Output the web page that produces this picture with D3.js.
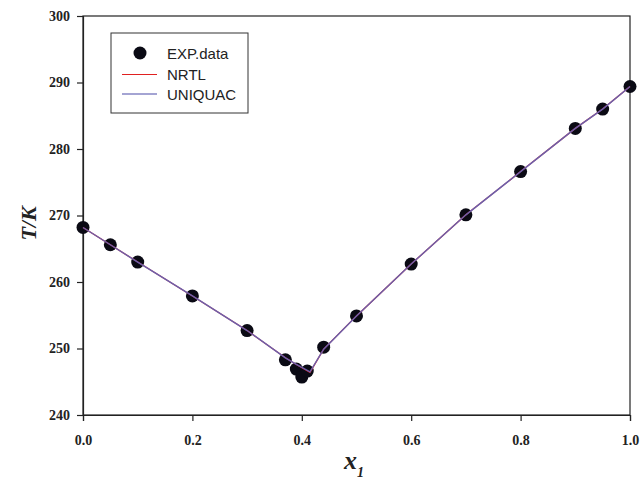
<!DOCTYPE html>
<html>
<head>
<meta charset="utf-8">
<script src="https://cdn.jsdelivr.net/npm/d3@7"></script>
<style>
  html, body { margin: 0; padding: 0; background: #fff; }
  svg { display: block; }
</style>
</head>
<body>
<svg id="chart" width="640" height="481"></svg>
<script>
// Experimental data
const expX = [0.0, 0.05, 0.10, 0.20, 0.30, 0.37, 0.39, 0.40, 0.41, 0.44, 0.50, 0.60, 0.70, 0.80, 0.90, 0.95, 1.00];
const expT = [268.2, 265.6, 263.0, 257.9, 252.7, 248.3, 246.9, 245.7, 246.6, 250.2, 254.9, 262.7, 270.1, 276.6, 283.1, 286.0, 289.4];

// Model curves
const modelX = [0.0, 0.05, 0.10, 0.20, 0.30, 0.37, 0.39, 0.415, 0.44, 0.50, 0.60, 0.70, 0.80, 0.90, 0.95, 1.00];
const nrtlT = [268.2, 265.6, 263.0, 257.9, 252.7, 248.6, 247.6, 246.4, 249.9, 254.9, 262.7, 270.1, 276.6, 283.1, 286.0, 289.4];
const uniquacT = [268.2, 265.6, 263.0, 257.9, 252.7, 248.6, 247.6, 246.5, 249.9, 254.9, 262.7, 270.1, 276.6, 283.1, 286.0, 289.4];

const xTicks = [0.0, 0.2, 0.4, 0.6, 0.8, 1.0];
const yTicks = [240, 250, 260, 270, 280, 290, 300];
const legendLabels = ["EXP.data", "NRTL", "UNIQUAC"];

const svg = d3.select("#chart");
const m = { left: 83, top: 16, right: 10, bottom: 66 };
const W = 640 - m.left - m.right; // 547
const H = 481 - m.top - m.bottom; // 399

const x = d3.scaleLinear().domain([0, 1]).range([m.left, m.left + W]);
const y = d3.scaleLinear().domain([240, 300]).range([m.top + H, m.top]);

const tickFont = "'Liberation Serif', 'Times New Roman', serif";

// frame
svg.append("rect")
  .attr("x", m.left).attr("y", m.top).attr("width", W).attr("height", H)
  .attr("fill", "none").attr("stroke", "#222").attr("stroke-width", 1.2);

// x axis
const gx = svg.append("g")
  .attr("transform", `translate(0,${m.top + H})`)
  .call(d3.axisBottom(x).tickValues(xTicks).tickFormat(d3.format(".1f")).tickSize(6).tickPadding(14));
gx.select(".domain").attr("stroke", "#222").attr("stroke-width", 1.2);
gx.selectAll(".tick line").attr("stroke", "#222").attr("stroke-width", 1.2);
gx.selectAll("text").attr("font-family", tickFont).attr("font-weight", "bold")
  .attr("font-size", 14).attr("fill", "#222");

// y axis
const gy = svg.append("g")
  .attr("transform", `translate(${m.left},0)`)
  .call(d3.axisLeft(y).tickValues(yTicks).tickFormat(d3.format("d")).tickSize(6).tickPadding(7));
gy.select(".domain").attr("stroke", "#222").attr("stroke-width", 1.2);
gy.selectAll(".tick line").attr("stroke", "#222").attr("stroke-width", 1.2);
gy.selectAll("text").attr("font-family", tickFont).attr("font-weight", "bold")
  .attr("font-size", 14).attr("fill", "#222");

// axis titles
svg.append("text")
  .attr("transform", `translate(36,${m.top + H / 2 + 8}) rotate(-90)`)
  .attr("text-anchor", "middle")
  .attr("font-family", tickFont).attr("font-weight", "bold").attr("font-style", "italic")
  .attr("font-size", 22).attr("fill", "#222")
  .text("T/K");

const xt = svg.append("text")
  .attr("x", 354).attr("y", 469)
  .attr("text-anchor", "middle")
  .attr("font-family", tickFont).attr("font-weight", "bold").attr("font-style", "italic")
  .attr("font-size", 26).attr("fill", "#222");
xt.append("tspan").text("x");
xt.append("tspan").attr("font-size", 14).attr("dy", 8).text("1");

// points
const pts = expX.map((d, i) => ({ x: d, t: expT[i] }));
svg.append("g").selectAll("circle").data(pts).join("circle")
  .attr("cx", d => x(d.x)).attr("cy", d => y(d.t)).attr("r", 6.5)
  .attr("fill", "#0a0a14");

// model lines
const line = d3.line().x(d => x(d.x)).y(d => y(d.t));
const nrtl = modelX.map((d, i) => ({ x: d, t: nrtlT[i] }));
const uniq = modelX.map((d, i) => ({ x: d, t: uniquacT[i] }));
svg.append("path").datum(nrtl).attr("d", line)
  .attr("fill", "none").attr("stroke", "#e02020").attr("stroke-width", 1.3);
svg.append("path").datum(uniq).attr("d", line)
  .attr("fill", "none").attr("stroke", "#6464b4").attr("stroke-width", 1.4).attr("stroke-opacity", 0.95);

// legend
const lg = svg.append("g");
lg.append("rect").attr("x", 111).attr("y", 33).attr("width", 137).attr("height", 80)
  .attr("fill", "#fff").attr("stroke", "#333").attr("stroke-width", 1);
const rowY = [53, 74.5, 94];
lg.append("circle").attr("cx", 140).attr("cy", rowY[0]).attr("r", 6.5).attr("fill", "#0a0a14");
lg.append("line").attr("x1", 122).attr("x2", 157).attr("y1", rowY[1]).attr("y2", rowY[1])
  .attr("stroke", "#e02020").attr("stroke-width", 1.2);
lg.append("line").attr("x1", 122).attr("x2", 157).attr("y1", rowY[2]).attr("y2", rowY[2])
  .attr("stroke", "#4a4aa8").attr("stroke-width", 1.2);
lg.selectAll("text.lab").data(legendLabels).join("text")
  .attr("class", "lab")
  .attr("x", 167).attr("y", (d, i) => rowY[i] + 5.5)
  .attr("font-family", "'Liberation Sans', Arial, sans-serif")
  .attr("font-size", 15).attr("fill", "#222")
  .text(d => d);
</script>
</body>
</html>
